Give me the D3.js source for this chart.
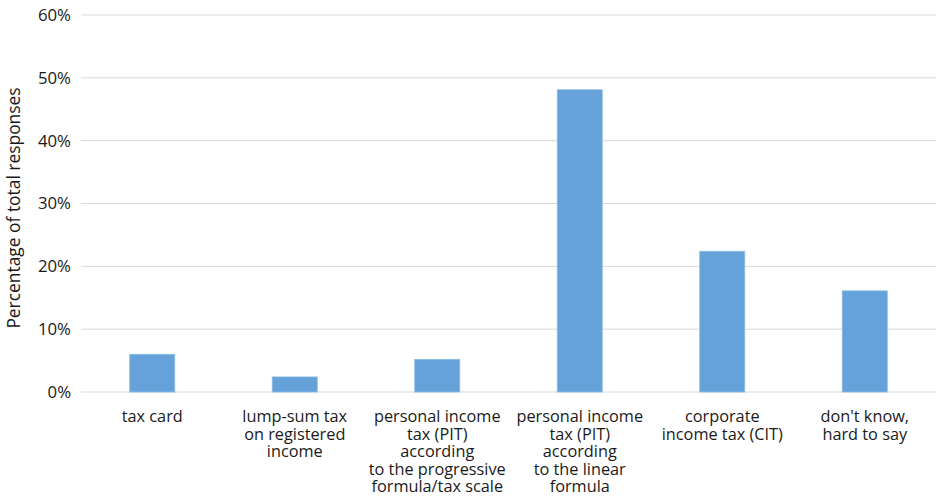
<!DOCTYPE html>
<html>
<head>
<meta charset="utf-8">
<script src="https://cdn.jsdelivr.net/npm/d3@7"></script>
<style>
  body { margin: 0; background: #fff; }
  text { font-family: "Open Sans", "Noto Sans", sans-serif; fill: #1a1a1a; }
</style>
</head>
<body>
<div id="chart"></div>
<script>
// categories, each one split into its label lines
var categories = ["tax card", "lump-sum tax", "PIT progressive", "PIT linear", "CIT", "don't know"];
var labelLines = [
  ["tax card"],
  ["lump-sum tax", "on registered", "income"],
  ["personal income", "tax (PIT)", "according", "to the progressive", "formula/tax scale"],
  ["personal income", "tax (PIT)", "according", "to the linear", "formula"],
  ["corporate", "income tax (CIT)"],
  ["don't know,", "hard to say"]
];
// share of total responses, %
var values = [6.0, 2.4, 5.2, 48.1, 22.4, 16.1];
var yTicks = [0, 10, 20, 30, 40, 50, 60];
var yTitle = "Percentage of total responses";

var W = 939, H = 497;
var margin = {top: 15, right: 3, bottom: 105, left: 81};
var w = W - margin.left - margin.right;
var h = H - margin.top - margin.bottom;

var svg = d3.select("#chart").append("svg").attr("width", W).attr("height", H);
var g = svg.append("g").attr("transform", "translate(" + margin.left + "," + margin.top + ")");

var x = d3.scaleBand().domain(categories).range([0, w]).paddingInner(0.684).paddingOuter(0.342);
var y = d3.scaleLinear().domain([0, 60]).range([h, 0]);

// grid lines
g.selectAll(".grid").data(yTicks).enter().append("line")
  .attr("x1", 0).attr("x2", w)
  .attr("y1", function (d) { return y(d); }).attr("y2", function (d) { return y(d); })
  .attr("stroke", "#d9d9d9").attr("stroke-width", 1);

// y axis labels
var yAxis = d3.axisLeft(y).tickValues(yTicks).tickSize(0).tickPadding(10)
  .tickFormat(function (d) { return d + "%"; });
var ya = g.append("g").call(yAxis);
ya.select(".domain").remove();
ya.selectAll("text").attr("font-size", 16.8).style("font-family", "'Open Sans', sans-serif").attr("fill", "#1a1a1a");

// bars
g.selectAll(".bar").data(values).enter().append("rect")
  .attr("x", function (d, i) { return x(categories[i]); })
  .attr("y", function (d) { return y(d); })
  .attr("width", x.bandwidth())
  .attr("height", function (d) { return h - y(d); })
  .attr("fill", "#64a2d9")
  .attr("stroke", "#8dbbe4").attr("stroke-width", 0.8);

// category labels
var lab = g.selectAll(".cat").data(labelLines).enter().append("text")
  .attr("text-anchor", "middle")
  .attr("font-size", 16.3)
  .attr("transform", function (d, i) {
    return "translate(" + (x(categories[i]) + x.bandwidth() / 2) + "," + (h + 30) + ")";
  });
lab.selectAll("tspan").data(function (d) { return d; }).enter().append("tspan")
  .attr("x", 0).attr("dy", function (d, i) { return i === 0 ? 0 : 17.6; })
  .text(function (d) { return d; });

// y title
svg.append("text")
  .attr("transform", "translate(20," + 208 + ") rotate(-90)")
  .attr("text-anchor", "middle")
  .attr("font-size", 17.4)
  .text(yTitle);
</script>
</body>
</html>
